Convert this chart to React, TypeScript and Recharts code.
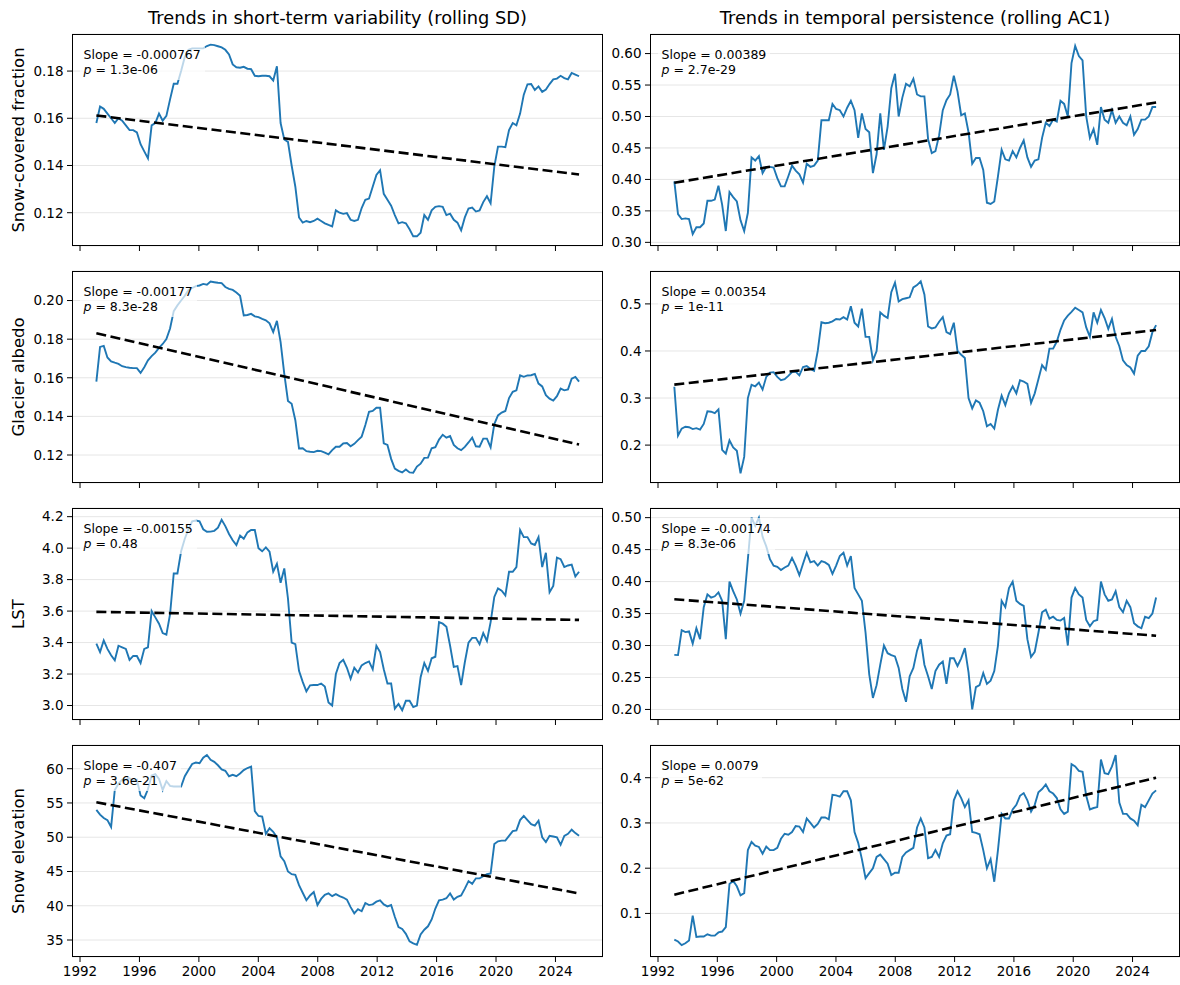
import { LineChart, Line, XAxis, YAxis, CartesianGrid } from "recharts";

// time axis: rolling-window samples, roughly quarterly
const dates = Array.from({ length: 132 }, (_, i) => 1993.1 + i * 0.248);
const yearTicks = [1992, 1996, 2000, 2004, 2008, 2012, 2016, 2020, 2024];

const sfcSD = [
  0.158, 0.165, 0.164, 0.162, 0.16, 0.158, 0.16, 0.159, 0.157, 0.155,
  0.155, 0.154, 0.149, 0.146, 0.143, 0.157, 0.158, 0.162, 0.159, 0.161,
  0.168, 0.1746, 0.1746, 0.18, 0.186, 0.189, 0.1896, 0.1896, 0.1896, 0.1896,
  0.1906, 0.1912, 0.191, 0.1905, 0.19, 0.189, 0.187, 0.1828, 0.1816, 0.1814,
  0.1818, 0.181, 0.1808, 0.178, 0.1778, 0.178, 0.178, 0.1778, 0.176, 0.182,
  0.158, 0.151, 0.15, 0.14, 0.131, 0.118, 0.1158, 0.1165, 0.116, 0.1165,
  0.1175, 0.1165, 0.1155, 0.1148, 0.1142, 0.121, 0.12, 0.1195, 0.1198, 0.117,
  0.1165, 0.117, 0.122, 0.1255, 0.126, 0.131, 0.136, 0.138, 0.128, 0.1255,
  0.123, 0.119, 0.1155, 0.116, 0.1155, 0.113, 0.11, 0.11, 0.1115, 0.119,
  0.117, 0.121, 0.1225, 0.1228, 0.1225, 0.119, 0.1196, 0.117, 0.1158, 0.1125,
  0.118, 0.1218, 0.1222, 0.1205, 0.121, 0.1245, 0.127, 0.124, 0.1395, 0.148,
  0.148, 0.1478, 0.155, 0.158, 0.157, 0.162, 0.17, 0.1744, 0.1745, 0.172,
  0.1735, 0.1712, 0.1722, 0.1745, 0.1765, 0.1768, 0.178, 0.177, 0.1765, 0.1792,
  0.1785, 0.1778,
];

const sfcAC1 = [
  0.397, 0.345, 0.337, 0.338, 0.337, 0.313, 0.324, 0.324, 0.33, 0.366,
  0.366, 0.368, 0.39, 0.36, 0.318, 0.38, 0.372, 0.365, 0.335, 0.318,
  0.347, 0.435, 0.43, 0.437, 0.41, 0.42, 0.42, 0.419, 0.402, 0.389,
  0.389, 0.405, 0.422, 0.414, 0.408, 0.395, 0.425, 0.42, 0.422, 0.43,
  0.494, 0.494, 0.494, 0.52, 0.512, 0.51, 0.5, 0.514, 0.525, 0.51,
  0.466, 0.505, 0.48, 0.475, 0.41, 0.44, 0.505, 0.447, 0.484, 0.545,
  0.568, 0.5, 0.53, 0.552, 0.548, 0.56, 0.535, 0.532, 0.532, 0.464,
  0.442, 0.445, 0.47, 0.51, 0.526, 0.535, 0.565, 0.54, 0.502, 0.505,
  0.475, 0.425, 0.434, 0.434, 0.415, 0.363, 0.361, 0.365, 0.405, 0.447,
  0.432, 0.43, 0.445, 0.435, 0.45, 0.462, 0.435, 0.42, 0.43, 0.432,
  0.466, 0.49, 0.485, 0.495, 0.492, 0.525, 0.52, 0.5, 0.585, 0.612,
  0.596, 0.589, 0.5, 0.466, 0.48, 0.455, 0.515, 0.495, 0.49, 0.51,
  0.49, 0.5, 0.49, 0.486, 0.5, 0.471, 0.48, 0.495, 0.495, 0.5,
  0.515, 0.515,
];

const gaSD = [
  0.158, 0.176, 0.1765, 0.1705, 0.1685, 0.1678, 0.1672, 0.166, 0.1655, 0.1652,
  0.165, 0.165, 0.1625, 0.1655, 0.169, 0.1712, 0.173, 0.1755, 0.1775, 0.18,
  0.1855, 0.1945, 0.1975, 0.2, 0.2025, 0.2055, 0.2065, 0.2075, 0.2078, 0.2086,
  0.2082, 0.2098, 0.2095, 0.2092, 0.209, 0.207, 0.206, 0.2055, 0.2042, 0.2025,
  0.1923, 0.1925, 0.1931, 0.1918, 0.1914, 0.1905, 0.1898, 0.1882, 0.1837, 0.1895,
  0.1785, 0.162, 0.148, 0.1465, 0.138, 0.1234, 0.1235, 0.122, 0.1217, 0.1215,
  0.1222, 0.122, 0.1212, 0.1203, 0.1225, 0.1243, 0.1243, 0.126, 0.1262, 0.1245,
  0.1258, 0.1277, 0.1295, 0.1355, 0.1424, 0.1428, 0.1445, 0.1445, 0.126, 0.1252,
  0.118, 0.113, 0.1118, 0.111, 0.1125, 0.111, 0.1108, 0.114, 0.1155, 0.1185,
  0.1186, 0.1235, 0.124, 0.128, 0.1305, 0.129, 0.1298, 0.1252, 0.1235, 0.1225,
  0.1242, 0.1265, 0.129, 0.1245, 0.1243, 0.1285, 0.1285, 0.124, 0.136, 0.1405,
  0.142, 0.1428, 0.1495, 0.1527, 0.1535, 0.1613, 0.1605, 0.1612, 0.1613, 0.162,
  0.157, 0.1555, 0.151, 0.1492, 0.1482, 0.1505, 0.1544, 0.1535, 0.154, 0.1595,
  0.1604, 0.158,
];

const gaAC1 = [
  0.324, 0.22, 0.235, 0.239, 0.238, 0.234, 0.236, 0.233, 0.245, 0.272,
  0.271, 0.268, 0.276, 0.19, 0.182, 0.21, 0.195, 0.188, 0.14, 0.175,
  0.3, 0.328, 0.325, 0.333, 0.318, 0.345, 0.354, 0.355, 0.345, 0.338,
  0.34, 0.347, 0.355, 0.356, 0.348, 0.366, 0.368, 0.362, 0.358, 0.4,
  0.461, 0.459, 0.46, 0.463, 0.468, 0.467, 0.472, 0.467, 0.495, 0.46,
  0.452, 0.49, 0.43, 0.43, 0.38, 0.4, 0.482, 0.475, 0.47, 0.525,
  0.545, 0.505, 0.51, 0.512, 0.514, 0.535, 0.54, 0.548, 0.52, 0.452,
  0.448, 0.45, 0.462, 0.472, 0.44, 0.436, 0.46, 0.4, 0.392, 0.385,
  0.3, 0.278, 0.295, 0.29, 0.272, 0.24, 0.245, 0.235, 0.275, 0.305,
  0.285, 0.31, 0.325, 0.31, 0.338, 0.335, 0.33, 0.29, 0.31, 0.34,
  0.37, 0.36, 0.405, 0.405, 0.42, 0.445, 0.465, 0.475, 0.483, 0.492,
  0.487, 0.482, 0.45, 0.43, 0.482, 0.46, 0.487, 0.47, 0.447, 0.468,
  0.43, 0.41, 0.38, 0.37, 0.365, 0.352, 0.39, 0.4, 0.4, 0.41,
  0.44, 0.455,
];

const lstSD = [
  3.393, 3.34, 3.414, 3.36, 3.319, 3.287, 3.38, 3.37, 3.36, 3.29,
  3.315, 3.315, 3.27, 3.36, 3.37, 3.6, 3.56, 3.52, 3.46, 3.45,
  3.58, 3.839, 3.839, 3.98, 4.06, 4.12, 4.17, 4.175, 4.17, 4.12,
  4.104, 4.105, 4.11, 4.13, 4.18, 4.14, 4.09, 4.05, 4.02, 4.08,
  4.06, 4.1, 4.115, 4.115, 4.0, 3.98, 4.005, 3.977, 3.85, 3.9,
  3.78, 3.871, 3.68, 3.4, 3.39, 3.22, 3.15, 3.09, 3.128, 3.13,
  3.13, 3.14, 3.12, 3.02, 3.0, 3.2, 3.27, 3.29, 3.24, 3.17,
  3.24, 3.21, 3.255, 3.27, 3.28, 3.23, 3.38, 3.34, 3.23, 3.14,
  3.14, 2.98, 3.01, 2.97, 3.03, 3.03, 2.99, 3.0, 3.18, 3.27,
  3.22, 3.3, 3.31, 3.53, 3.52, 3.5, 3.38, 3.245, 3.25, 3.13,
  3.275, 3.4, 3.43, 3.43, 3.39, 3.46, 3.41, 3.53, 3.69, 3.744,
  3.73, 3.7, 3.85, 3.85, 3.88, 4.115, 4.07, 4.07, 4.03, 4.02,
  4.07, 3.88, 3.97, 3.72, 3.76, 3.94, 3.93, 3.88, 3.89, 3.895,
  3.82, 3.85,
];

const lstAC1 = [
  0.2854, 0.285, 0.324, 0.321, 0.322, 0.303, 0.327, 0.31, 0.36, 0.38,
  0.375, 0.377, 0.383, 0.37, 0.31, 0.4, 0.385, 0.372, 0.35, 0.37,
  0.435, 0.5, 0.487, 0.5, 0.47, 0.455, 0.435, 0.425, 0.423, 0.418,
  0.422, 0.425, 0.437, 0.425, 0.41, 0.428, 0.445, 0.43, 0.432, 0.425,
  0.432, 0.43, 0.426, 0.412, 0.425, 0.44, 0.445, 0.425, 0.44, 0.39,
  0.38, 0.37, 0.32, 0.255, 0.218, 0.238, 0.27, 0.3, 0.288, 0.285,
  0.283, 0.265, 0.232, 0.212, 0.252, 0.265, 0.292, 0.31, 0.27, 0.252,
  0.232, 0.26, 0.27, 0.275, 0.24, 0.28, 0.28, 0.268, 0.28, 0.296,
  0.258, 0.2, 0.235, 0.238, 0.257, 0.24, 0.245, 0.26, 0.3, 0.37,
  0.36, 0.39, 0.4, 0.37, 0.365, 0.362, 0.31, 0.282, 0.29, 0.32,
  0.352, 0.356, 0.342, 0.345, 0.34, 0.339, 0.343, 0.3, 0.375, 0.39,
  0.38, 0.375, 0.34, 0.33, 0.338, 0.34, 0.4, 0.38, 0.37, 0.372,
  0.385, 0.36, 0.352, 0.37, 0.36, 0.335, 0.33, 0.327, 0.345, 0.343,
  0.35, 0.375,
];

const seSD = [
  54.0, 53.3, 52.8, 52.5, 51.5, 56.9, 57.8, 58.4, 58.4, 58.6,
  58.2, 58.4, 56.1, 55.7, 57.0, 59.0, 59.2, 58.5, 56.9, 58.2,
  57.5, 57.4, 57.4, 57.4, 58.9, 59.8, 60.7, 60.9, 60.8, 61.6,
  62.0, 61.3, 61.0, 60.5, 59.9, 59.7, 58.9, 59.1, 58.9, 59.3,
  59.8, 60.1, 60.3, 53.8, 53.1, 53.0, 50.5, 51.3, 50.8, 50.0,
  47.2, 46.5, 45.0, 44.6, 44.5, 43.0, 41.9, 40.8, 41.5, 42.0,
  40.1, 41.0, 41.6, 41.8, 41.4, 41.7, 41.4, 41.2, 40.9, 39.8,
  38.9, 39.5, 39.2, 40.4, 40.1, 40.2, 40.6, 40.8, 40.2, 39.9,
  40.1, 38.4, 36.9, 36.6, 35.9, 34.8, 34.5, 34.3, 35.8, 36.5,
  37.0, 38.0, 39.6, 40.8, 40.9, 41.1, 41.8, 40.9, 41.3, 41.5,
  42.5, 43.6, 43.2, 44.0, 44.0, 44.3, 44.6, 44.7, 49.0, 49.4,
  49.5, 49.5, 50.2, 50.9, 51.0, 52.5, 53.1, 52.5, 51.9, 51.7,
  52.4, 50.0, 49.3, 50.2, 50.1, 50.0, 48.9, 50.2, 50.5, 51.1,
  50.6, 50.2,
];

const seAC1 = [
  0.042, 0.038, 0.03, 0.034, 0.04, 0.095, 0.048, 0.049, 0.049, 0.054,
  0.051, 0.051, 0.058, 0.06, 0.07, 0.165, 0.172, 0.16, 0.14, 0.145,
  0.24, 0.258, 0.25, 0.247, 0.232, 0.248, 0.24, 0.24, 0.245, 0.265,
  0.276, 0.274, 0.28, 0.293, 0.292, 0.28, 0.31, 0.3, 0.29, 0.298,
  0.312, 0.312, 0.308, 0.362, 0.361, 0.358, 0.37, 0.37, 0.35, 0.28,
  0.256, 0.22, 0.178, 0.189, 0.2, 0.225, 0.23, 0.22, 0.21, 0.185,
  0.19, 0.19, 0.225, 0.235, 0.24, 0.245, 0.29, 0.31, 0.29, 0.222,
  0.225, 0.24, 0.225, 0.255, 0.272, 0.275, 0.35, 0.37, 0.355, 0.335,
  0.35, 0.28, 0.278, 0.275, 0.24, 0.2, 0.22, 0.17, 0.24, 0.32,
  0.31, 0.31, 0.33, 0.34, 0.36, 0.366, 0.35, 0.325, 0.34, 0.368,
  0.375, 0.385, 0.37, 0.365, 0.355, 0.33, 0.32, 0.325, 0.43, 0.425,
  0.415, 0.413, 0.36, 0.33, 0.333, 0.335, 0.44, 0.41, 0.408, 0.425,
  0.45, 0.345, 0.32, 0.32, 0.31, 0.305, 0.295, 0.34, 0.335, 0.35,
  0.365, 0.372,
];

// fitted trend, value at first and last date
const sfcSDTrend = [0.1612, 0.1362];
const sfcAC1Trend = [0.3947, 0.5223];
const gaSDTrend = [0.1831, 0.1254];
const gaAC1Trend = [0.3285, 0.4445];
const lstSDTrend = [3.595, 3.544];
const lstAC1Trend = [0.3723, 0.3153];
const seSDTrend = [55.1, 41.8];
const seAC1Trend = [0.1414, 0.4];

const slopeLabels = ["-0.000767", "0.00389", "-0.00177", "0.00354", "-0.00155", "-0.00174", "-0.407", "0.0079"];
const pLabels = ["1.3e-06", "2.7e-29", "8.3e-28", "1e-11", "0.48", "8.3e-06", "3.6e-21", "5e-62"];
const rowLabels = ["Snow-covered fraction", "Glacier albedo", "LST", "Snow elevation"];
const colTitles = ["Trends in short-term variability (rolling SD)", "Trends in temporal persistence (rolling AC1)"];

const panels = [
  { values: sfcSD, trend: sfcSDTrend, domain: [0.1059, 0.1957], ticks: [0.12, 0.14, 0.16, 0.18], digits: 2 },
  { values: sfcAC1, trend: sfcAC1Trend, domain: [0.2942, 0.6311], ticks: [0.3, 0.35, 0.4, 0.45, 0.5, 0.55, 0.6], digits: 2 },
  { values: gaSD, trend: gaSDTrend, domain: [0.1055, 0.2153], ticks: [0.12, 0.14, 0.16, 0.18, 0.2], digits: 2 },
  { values: gaAC1, trend: gaAC1Trend, domain: [0.1195, 0.5699], ticks: [0.2, 0.3, 0.4, 0.5], digits: 1 },
  { values: lstSD, trend: lstSDTrend, domain: [2.908, 4.255], ticks: [3.0, 3.2, 3.4, 3.6, 3.8, 4.0, 4.2], digits: 1 },
  { values: lstAC1, trend: lstAC1Trend, domain: [0.1835, 0.5151], ticks: [0.2, 0.25, 0.3, 0.35, 0.4, 0.45, 0.5], digits: 2 },
  { values: seSD, trend: seSDTrend, domain: [32.52, 63.46], ticks: [35, 40, 45, 50, 55, 60], digits: 0 },
  { values: seAC1, trend: seAC1Trend, domain: [0.0037, 0.4723], ticks: [0.1, 0.2, 0.3, 0.4], digits: 1 },
];

const rowTops = [34, 271, 508, 745];
const rowH = 212;
const colLefts = [72, 650];
const colWidths = [531, 530];
const xDomain = [1991.46, 2027.2];

const Panel = ({ idx }: { idx: number }) => {
  const cfg = panels[idx];
  const row = Math.floor(idx / 2);
  const col = idx % 2;
  const left = colLefts[col];
  const top = rowTops[row];
  const w = colWidths[col];
  const showX = row === 3;
  const data = dates.map((t, i) => ({ t, v: cfg.values[i] }));
  const trendData = [
    { t: dates[0], trend: cfg.trend[0] },
    { t: dates[dates.length - 1], trend: cfg.trend[1] },
  ];

  return (
    <>
      <div style={{ position: "absolute", left: left - 70, top: top - 10 }}>
        <LineChart width={w + 80} height={rowH + 40} data={data} margin={{ top: 10, right: 10, bottom: 0, left: 0 }}>
          <CartesianGrid vertical={false} stroke="#e6e6e6" strokeWidth={1} />
          <XAxis
            dataKey="t"
            type="number"
            domain={xDomain}
            ticks={yearTicks}
            interval={0}
            allowDataOverflow
            height={30}
            axisLine={false}
            tickSize={5}
            tickMargin={4}
            tickLine={{ stroke: "#000" }}
            tick={{ fill: "#000", fontSize: 13.5 }}
            tickFormatter={(v: number) => (showX ? String(v) : "")}
          />
          <YAxis
            type="number"
            domain={cfg.domain}
            ticks={cfg.ticks}
            interval={0}
            allowDataOverflow
            width={70}
            axisLine={false}
            tickSize={5}
            tickMargin={3.5}
            tickLine={{ stroke: "#000" }}
            tick={{ fill: "#000", fontSize: 13.5 }}
            tickFormatter={(v: number) => v.toFixed(cfg.digits)}
          />
          <Line dataKey="v" stroke="#1f77b4" strokeWidth={1.9} dot={false} isAnimationActive={false} />
          <Line
            data={trendData}
            dataKey="trend"
            stroke="#000"
            strokeWidth={2.6}
            strokeDasharray="10 4.5"
            dot={false}
            isAnimationActive={false}
          />
        </LineChart>
      </div>
      {/* axes frame */}
      <div
        style={{
          position: "absolute",
          left,
          top,
          width: w,
          height: rowH,
          border: "1px solid #000",
          boxSizing: "border-box",
          pointerEvents: "none",
        }}
      />
      {/* slope annotation with translucent box */}
      <div
        style={{
          position: "absolute",
          left: left + 7.5,
          top: top + 9.5,
          padding: "3px 4px",
          background: "rgba(255,255,255,0.7)",
          borderRadius: 4,
          fontSize: 12.5,
          lineHeight: "15px",
          color: "#000",
          whiteSpace: "nowrap",
        }}
      >
        <div>Slope = {slopeLabels[idx]}</div>
        <div>
          <i>p</i> = {pLabels[idx]}
        </div>
      </div>
    </>
  );
};

export default function App() {
  return (
    <div
      style={{
        position: "absolute",
        left: 0,
        top: 0,
        width: 1180,
        height: 985,
        background: "#fff",
        fontFamily: "'DejaVu Sans', sans-serif",
      }}
    >
      <svg width={1180} height={985} style={{ position: "absolute", left: 0, top: 0 }}>
        {colTitles.map((t, c) => (
          <text key={t} x={colLefts[c] + colWidths[c] / 2} y={24} textAnchor="middle" fontSize={17.8} fill="#000">
            {t}
          </text>
        ))}
        {rowLabels.map((t, r) => {
          const cy = rowTops[r] + rowH / 2;
          return (
            <text key={t} x={24} y={cy} textAnchor="middle" fontSize={16.5} fill="#000" transform={`rotate(-90, 24, ${cy})`}>
              {t}
            </text>
          );
        })}
      </svg>
      {panels.map((_, i) => (
        <Panel key={i} idx={i} />
      ))}
    </div>
  );
}
